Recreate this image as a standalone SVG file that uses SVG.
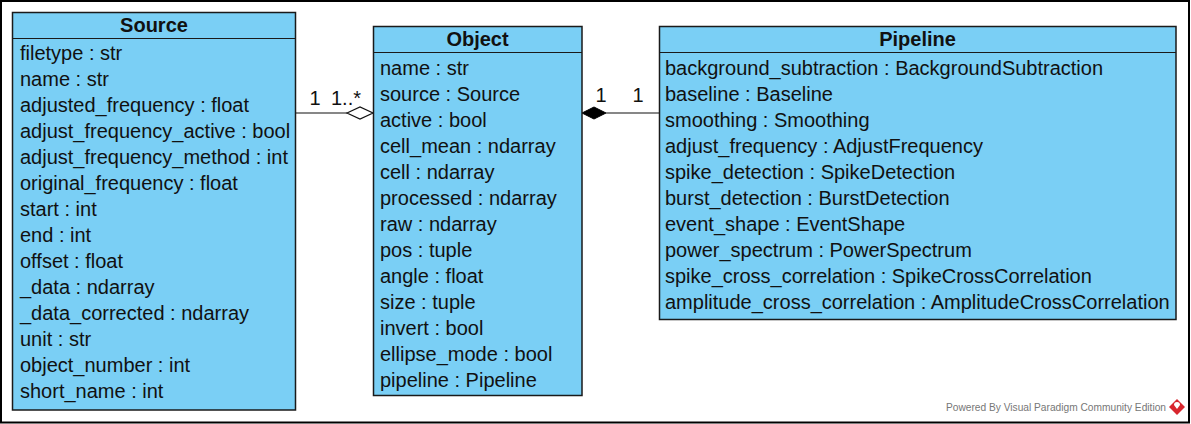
<svg xmlns="http://www.w3.org/2000/svg" width="1191" height="424" viewBox="0 0 1191 424">
<style>
.box{fill:#7acff5;stroke:#1a1a1a;stroke-width:1.5}
.sep{stroke:#1a1a1a;stroke-width:1.2}
.t{font-family:"Liberation Sans",Arial,sans-serif;font-size:20px;fill:#111}
.h{font-family:"Liberation Sans",Arial,sans-serif;font-size:20px;font-weight:bold;fill:#111;text-anchor:middle}
.c{stroke:#111;stroke-width:1.2;fill:none}
.wm{font-family:"Liberation Sans",Arial,sans-serif;font-size:10.2px;fill:#777;text-anchor:end}
</style>
<rect x="0" y="0" width="1191" height="424" fill="#fff"/>
<rect x="1" y="1" width="1188" height="421.5" fill="none" stroke="#000" stroke-width="2"/>
<g id="connectors">
<line class="c" x1="296" y1="113" x2="347" y2="113"/>
<polygon points="347,113 360,107 373,113 360,119" fill="#fff" stroke="#111" stroke-width="1.2"/>
<line class="c" x1="606" y1="113" x2="659" y2="113"/>
<polygon points="582,113 594,107 606,113 594,119" fill="#000" stroke="#000" stroke-width="1"/>
<text class="t" x="315" y="105" text-anchor="middle">1</text>
<text class="t" x="331" y="105">1..*</text>
<text class="t" x="601" y="102" text-anchor="middle">1</text>
<text class="t" x="638" y="102" text-anchor="middle">1</text>
</g>
<g id="source">
<rect class="box" x="12.5" y="12.5" width="283" height="397.5"/>
<line class="sep" x1="12.5" y1="38.5" x2="295.5" y2="38.5"/>
<text class="h" x="154" y="32">Source</text>
<text class="t" x="20" y="60">filetype : str</text>
<text class="t" x="20" y="86">name : str</text>
<text class="t" x="20" y="112">adjusted_frequency : float</text>
<text class="t" x="20" y="138">adjust_frequency_active : bool</text>
<text class="t" x="20" y="164">adjust_frequency_method : int</text>
<text class="t" x="20" y="190">original_frequency : float</text>
<text class="t" x="20" y="216">start : int</text>
<text class="t" x="20" y="242">end : int</text>
<text class="t" x="20" y="268">offset : float</text>
<text class="t" x="20" y="294">_data : ndarray</text>
<text class="t" x="20" y="320">_data_corrected : ndarray</text>
<text class="t" x="20" y="346">unit : str</text>
<text class="t" x="20" y="372">object_number : int</text>
<text class="t" x="20" y="398">short_name : int</text>
</g>
<g id="object">
<rect class="box" x="373.5" y="26.5" width="208.5" height="369"/>
<line class="sep" x1="373.5" y1="52.5" x2="582" y2="52.5"/>
<text class="h" x="477.5" y="46">Object</text>
<text class="t" x="380" y="75">name : str</text>
<text class="t" x="380" y="101">source : Source</text>
<text class="t" x="380" y="127">active : bool</text>
<text class="t" x="380" y="153">cell_mean : ndarray</text>
<text class="t" x="380" y="179">cell : ndarray</text>
<text class="t" x="380" y="205">processed : ndarray</text>
<text class="t" x="380" y="231">raw : ndarray</text>
<text class="t" x="380" y="257">pos : tuple</text>
<text class="t" x="380" y="283">angle : float</text>
<text class="t" x="380" y="309">size : tuple</text>
<text class="t" x="380" y="335">invert : bool</text>
<text class="t" x="380" y="361">ellipse_mode : bool</text>
<text class="t" x="380" y="387">pipeline : Pipeline</text>
</g>
<g id="pipeline">
<rect class="box" x="659.5" y="26.5" width="516.5" height="293"/>
<line class="sep" x1="659.5" y1="52.5" x2="1176" y2="52.5"/>
<text class="h" x="917.5" y="46">Pipeline</text>
<text class="t" x="665" y="75">background_subtraction : BackgroundSubtraction</text>
<text class="t" x="665" y="101">baseline : Baseline</text>
<text class="t" x="665" y="127">smoothing : Smoothing</text>
<text class="t" x="665" y="153">adjust_frequency : AdjustFrequency</text>
<text class="t" x="665" y="179">spike_detection : SpikeDetection</text>
<text class="t" x="665" y="205">burst_detection : BurstDetection</text>
<text class="t" x="665" y="231">event_shape : EventShape</text>
<text class="t" x="665" y="257">power_spectrum : PowerSpectrum</text>
<text class="t" x="665" y="283">spike_cross_correlation : SpikeCrossCorrelation</text>
<text class="t" x="665" y="309">amplitude_cross_correlation : AmplitudeCrossCorrelation</text>
</g>
<g id="watermark">
<text class="wm" x="1166" y="411">Powered By  Visual Paradigm Community Edition</text>
<path d="M1177,399 L1185,407 L1177,415 L1169,407 Z" fill="#d8262e"/>
<path d="M1174,405 a3,3 0 1,1 6,0 l-3,4 z" fill="#fff"/>
</g>
</svg>
